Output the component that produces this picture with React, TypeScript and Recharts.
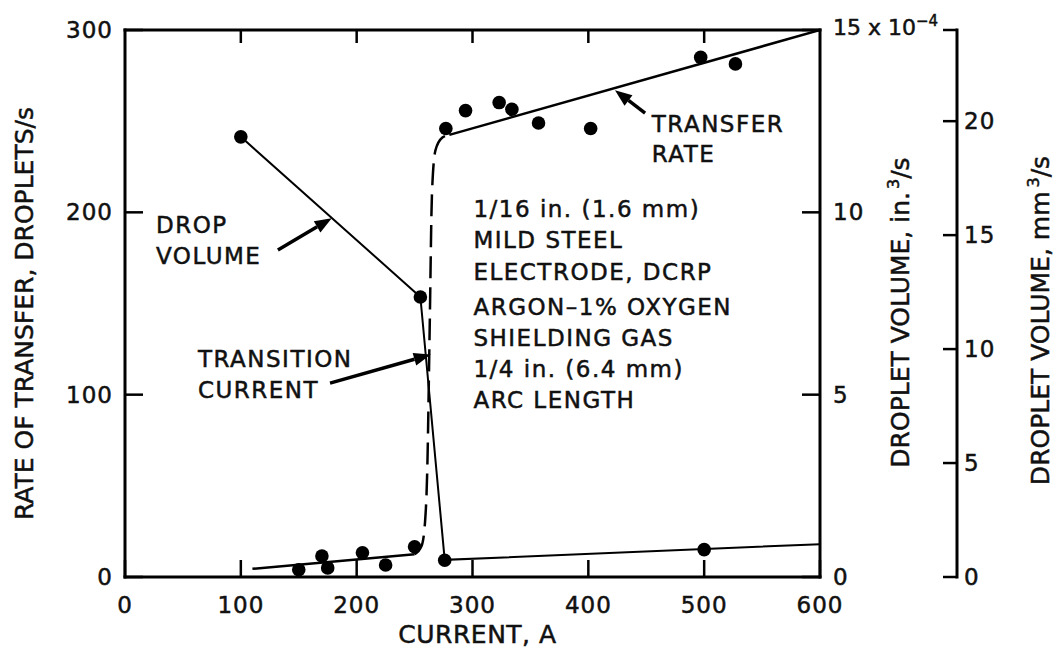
import React from 'react';
import {
    ComposedChart,
    Line,
    Scatter,
    XAxis,
    YAxis,
    ReferenceLine,
    ReferenceDot,
} from 'recharts';

// measured transfer rate, droplets/s
const lowCurrent = [150, 170, 175, 205, 225, 250];
const lowRate = [4, 11.5, 5, 13.3, 6.6, 16.6];
const highCurrent = [277, 294, 323, 334, 357, 402, 497, 527];
const highRate = [246, 255.8, 260.2, 256.5, 249, 246, 285, 281.4];

// faired transfer rate curve (globular, transition, spray)
const lowFitCurrent = [110, 250];
const lowFitRate = [4.5, 12.5];
const jumpCurrent = [250, 256, 259, 261, 263, 265, 268, 274, 280];
const jumpRate = [12.5, 17, 30, 60, 135, 210, 234, 241, 242.5];
const highFitCurrent = [280, 600];
const highFitRate = [242.5, 300];

// drop volume, x 10^-4 in.^3/s
const dropCurrent = [100, 255, 276, 500];
const dropVolume = [12.07, 7.68, 0.46, 0.75];
const dropFitCurrent = [100, 255, 276, 600];
const dropFitVolume = [12.07, 7.68, 0.47, 0.9];

// axes
const currentTicks = [0, 100, 200, 300, 400, 500, 600];
const rateTicks = [0, 100, 200, 300];
const volumeTicks = [0, 5, 10, 15];
const mmTicks = [0, 5, 10, 15, 20];
const MM_TOP = 24;
const RATE_TOP = 300;
const FRAME_TOP = 30; // height of the top axis (chart margin.top is 0)

const INK = '#111';
const FONT = '"DejaVu Sans", sans-serif';

const pairs = (xs: number[], ys: number[], key: string) =>
    xs.map((c, i) => ({ current: c, [key]: ys[i] }));

const transferPoints = [...pairs(lowCurrent, lowRate, 'rate'), ...pairs(highCurrent, highRate, 'rate')];
const dropPoints = pairs(dropCurrent, dropVolume, 'vol');

const Dot = (p: any) => <circle cx={p.cx} cy={p.cy} r={6.8} fill="#000" />;

const arrowShape = (p: any) => {
    const { x1, y1, x2, y2 } = p;
    const a = Math.atan2(y2 - y1, x2 - x1);
    const len = 17;
    const half = 6.5;
    const bx = x2 - len * Math.cos(a);
    const by = y2 - len * Math.sin(a);
    const ox = -Math.sin(a) * half;
    const oy = Math.cos(a) * half;
    return (
        <g>
            <line x1={x1} y1={y1} x2={bx} y2={by} stroke="#000" strokeWidth={3.5} />
            <polygon points={`${x2},${y2} ${bx + ox},${by + oy} ${bx - ox},${by - oy}`} fill="#000" />
        </g>
    );
};

// scanned lettering is heavier than DejaVu Book, so give it a thin outline
const textInk = { fill: INK, stroke: INK, strokeWidth: 0.5, fontFamily: FONT };

const noteShape = (lines: string[], lineHeight: number) => (p: any) => (
    <text x={p.cx} y={p.cy} fontSize={23} letterSpacing={1.5} {...textInk}>
        {lines.map((t, i) => (
            <tspan key={i} x={p.cx} dy={i === 0 ? 0 : lineHeight}>
                {t}
            </tspan>
        ))}
    </text>
);

// current label under the frame, plus the matching tick hanging from the top edge
const CurrentTick = (p: any) => {
    const { x, y, payload } = p;
    const first = currentTicks[0];
    const last = currentTicks[currentTicks.length - 1];
    const inner = payload.value > first && payload.value < last;
    return (
        <g>
            <text x={x} y={y} dy={16.5} textAnchor="middle" fontSize={23} letterSpacing={1} {...textInk}>
                {payload.value}
            </text>
            {inner && (
                <line x1={x} y1={FRAME_TOP} x2={x} y2={FRAME_TOP + 13} stroke="#000" strokeWidth={2.5} />
            )}
        </g>
    );
};

const VolumeTick = (p: any) => {
    const { x, y, payload } = p;
    if (payload.value === 15) {
        return (
            <text x={x} y={y + 5} fontSize={22} {...textInk}>
                15 x 10<tspan dy={-9} fontSize={15}>−4</tspan>
            </text>
        );
    }
    return (
        <text x={x} y={y + 8} fontSize={23} letterSpacing={1} {...textInk}>
            {payload.value}
        </text>
    );
};

const MmTick = (p: any) => {
    const { x, y, payload } = p;
    if (payload.value === MM_TOP) return <g />;
    return (
        <text x={x} y={y + 8} fontSize={23} letterSpacing={1} {...textInk}>
            {payload.value}
        </text>
    );
};

const leftTitle = (p: any) => {
    const { x, y, height } = p.viewBox;
    const cx = x + 33;
    const cy = y + height / 2 + 10;
    return (
        <text x={cx} y={cy} transform={`rotate(-90 ${cx} ${cy})`} textAnchor="middle" fontSize={25} {...textInk}>
            RATE OF TRANSFER, DROPLETS/s
        </text>
    );
};

const volumeTitle = (p: any) => {
    const { x, y, height } = p.viewBox;
    const cx = x + 89;
    const cy = y + height / 2 + 9;
    return (
        <text x={cx} y={cy} transform={`rotate(-90 ${cx} ${cy})`} textAnchor="middle" fontSize={25} {...textInk}>
            DROPLET VOLUME, in.
            <tspan dx={3} dy={-10} fontSize={16}>3</tspan>
            <tspan dy={10}>/s</tspan>
        </text>
    );
};

const mmTitle = (p: any) => {
    const { x, y, height } = p.viewBox;
    const cx = x + 92;
    const cy = y + height / 2 + 17;
    return (
        <text x={cx} y={cy} transform={`rotate(-90 ${cx} ${cy})`} textAnchor="middle" fontSize={25} {...textInk}>
            DROPLET VOLUME, mm
            <tspan dx={4} dy={-10} fontSize={16}>3</tspan>
            <tspan dy={10}>/s</tspan>
        </text>
    );
};

const bottomTitle = (p: any) => {
    const { x, y, width } = p.viewBox;
    return (
        <text x={x + width / 2 + 5} y={y + 66} textAnchor="middle" fontSize={25} letterSpacing={0.5} {...textInk}>
            CURRENT, A
        </text>
    );
};

const axisLine = { stroke: '#000', strokeWidth: 3, strokeLinecap: 'square' as const };
const tickLine = { stroke: '#000', strokeWidth: 2.5 };
const tickText = { fontSize: 23, letterSpacing: 1, ...textInk };

export default function App() {
    return (
        <div style={{ position: 'absolute', left: 0, top: 0, width: 1060, height: 650, background: '#fff' }}>
            <ComposedChart width={1060} height={650} margin={{ top: 0, right: 0, bottom: 0, left: 0 }}>
                <XAxis
                    xAxisId="bottom"
                    dataKey="current"
                    type="number"
                    domain={[0, 600]}
                    allowDataOverflow
                    ticks={currentTicks}
                    height={73}
                    axisLine={axisLine}
                    tickLine={tickLine}
                    tickSize={-17}
                    tickMargin={36}
                    tick={<CurrentTick />}
                    interval={0}
                    label={{ content: bottomTitle }}
                />
                <XAxis
                    xAxisId="top"
                    orientation="top"
                    type="number"
                    domain={[0, 600]}
                    allowDataOverflow
                    height={FRAME_TOP}
                    axisLine={axisLine}
                    tick={false}
                    tickLine={false}
                />
                <YAxis
                    yAxisId="rate"
                    dataKey="rate"
                    type="number"
                    domain={[0, RATE_TOP]}
                    allowDataOverflow
                    ticks={rateTicks}
                    width={125}
                    axisLine={axisLine}
                    tickLine={tickLine}
                    tickSize={-18}
                    tickMargin={30}
                    tick={tickText}
                    interval={0}
                    label={{ content: leftTitle }}
                />
                <YAxis
                    yAxisId="in3"
                    orientation="right"
                    dataKey="vol"
                    type="number"
                    domain={[0, 15]}
                    allowDataOverflow
                    ticks={volumeTicks}
                    width={137}
                    axisLine={axisLine}
                    tickLine={tickLine}
                    tickSize={-18}
                    tickMargin={31}
                    tick={<VolumeTick />}
                    interval={0}
                    label={{ content: volumeTitle }}
                />
                <YAxis
                    yAxisId="mm3"
                    orientation="right"
                    type="number"
                    domain={[0, MM_TOP]}
                    allowDataOverflow
                    ticks={[...mmTicks, MM_TOP]}
                    width={103}
                    axisLine={axisLine}
                    tickLine={tickLine}
                    tickSize={-14}
                    tickMargin={21}
                    tick={<MmTick />}
                    interval={0}
                    label={{ content: mmTitle }}
                />

                <Line
                    xAxisId="bottom"
                    yAxisId="in3"
                    data={pairs(dropFitCurrent, dropFitVolume, 'vol')}
                    dataKey="vol"
                    type="linear"
                    stroke="#000"
                    strokeWidth={2}
                    dot={false}
                    isAnimationActive={false}
                />
                <Line
                    xAxisId="bottom"
                    yAxisId="rate"
                    data={pairs(lowFitCurrent, lowFitRate, 'rate')}
                    dataKey="rate"
                    type="linear"
                    stroke="#000"
                    strokeWidth={2.5}
                    dot={false}
                    isAnimationActive={false}
                />
                <Line
                    xAxisId="bottom"
                    yAxisId="rate"
                    data={pairs(jumpCurrent, jumpRate, 'rate')}
                    dataKey="rate"
                    type="monotone"
                    stroke="#000"
                    strokeWidth={2.5}
                    strokeDasharray="22 9"
                    dot={false}
                    isAnimationActive={false}
                />
                <Line
                    xAxisId="bottom"
                    yAxisId="rate"
                    data={pairs(highFitCurrent, highFitRate, 'rate')}
                    dataKey="rate"
                    type="linear"
                    stroke="#000"
                    strokeWidth={2.5}
                    dot={false}
                    isAnimationActive={false}
                />
                <Scatter
                    xAxisId="bottom"
                    yAxisId="rate"
                    data={transferPoints}
                    dataKey="rate"
                    shape={Dot}
                    isAnimationActive={false}
                />
                <Scatter
                    xAxisId="bottom"
                    yAxisId="in3"
                    data={dropPoints}
                    dataKey="vol"
                    shape={Dot}
                    isAnimationActive={false}
                />

                {/* arrows */}
                <ReferenceLine xAxisId="bottom" yAxisId="rate" segment={[{ x: 132, y: 179.4 }, { x: 178.5, y: 196.8 }]} shape={arrowShape} />
                <ReferenceLine xAxisId="bottom" yAxisId="rate" segment={[{ x: 177, y: 106.3 }, { x: 264, y: 122 }]} shape={arrowShape} />
                <ReferenceLine xAxisId="bottom" yAxisId="rate" segment={[{ x: 449, y: 254.4 }, { x: 423, y: 267 }]} shape={arrowShape} />

                {/* notes */}
                <ReferenceDot xAxisId="bottom" yAxisId="rate" x={26.8} y={188.7} r={0} shape={noteShape(['DROP', 'VOLUME'], 31)} />
                <ReferenceDot xAxisId="bottom" yAxisId="rate" x={63} y={115.2} r={0} shape={noteShape(['TRANSITION', 'CURRENT'], 31)} />
                <ReferenceDot xAxisId="bottom" yAxisId="rate" x={454.8} y={244.3} r={0} shape={noteShape(['TRANSFER', 'RATE'], 30)} />
                <ReferenceDot
                    xAxisId="bottom"
                    yAxisId="rate"
                    x={300.8}
                    y={197.5}
                    r={0}
                    shape={noteShape(['1/16 in. (1.6 mm)', 'MILD STEEL', 'ELECTRODE, DCRP'], 31.5)}
                />
                <ReferenceDot
                    xAxisId="bottom"
                    yAxisId="rate"
                    x={300.8}
                    y={143.7}
                    r={0}
                    shape={noteShape(['ARGON–1% OXYGEN', 'SHIELDING GAS', '1/4 in. (6.4 mm)', 'ARC LENGTH'], 31)}
                />
            </ComposedChart>
        </div>
    );
}
